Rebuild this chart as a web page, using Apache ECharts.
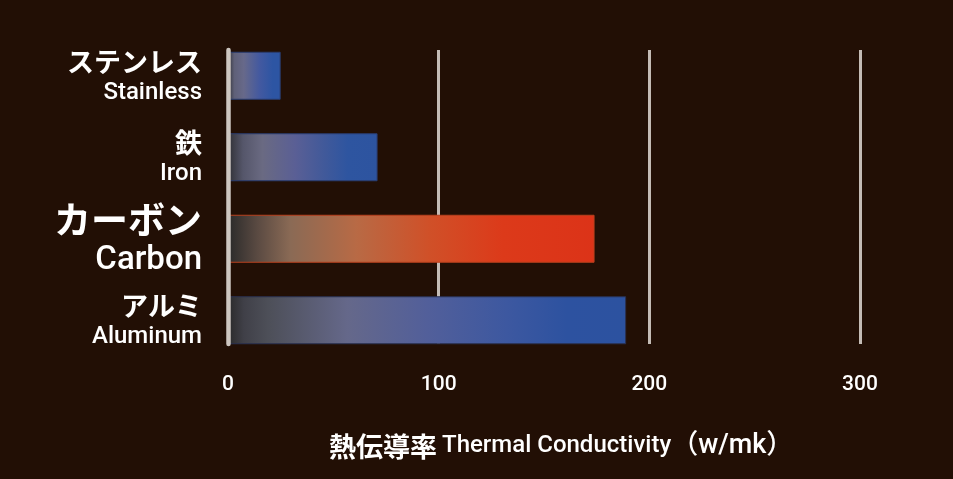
<!DOCTYPE html>
<html>
<head>
<meta charset="utf-8">
<script src="https://cdn.jsdelivr.net/npm/echarts@6/dist/echarts.min.js"></script>
<style>
  html, body { margin: 0; padding: 0; background: #220f05; }
  #chart { width: 953px; height: 479px; }
</style>
</head>
<body>
<div id="chart"></div>
<script>
const categoriesJa = ['ステンレス', '鉄', 'カーボン', 'アルミ'];
const categoriesEn = ['Stainless', 'Iron', 'Carbon', 'Aluminum'];
const values = [25, 71, 174, 189];
const tickValues = [0, 100, 200, 300];
const axisTitleJa = '熱伝導率';
const axisTitleEn = 'Thermal Conductivity';
const axisTitleUnit = '（w/mk）';

const gradients = [
  [[0, '#333338'], [0.12, '#5f6078'], [0.3, '#67698a'], [0.6, '#4359a0'], [0.85, '#2d55a3'], [1, '#2d55a3']],
  [[0, '#303034'], [0.1, '#55566a'], [0.23, '#6a6a82'], [0.45, '#5a5f95'], [0.65, '#40599a'], [0.8, '#2e55a0'], [1, '#2d54a0']],
  [[0, '#2a2a2a'], [0.08, '#5a4a42'], [0.17, '#8a6a55'], [0.35, '#b86a45'], [0.55, '#d05028'], [0.75, '#dc3a1a'], [1, '#dc3318']],
  [[0, '#2a2a2a'], [0.04, '#404048'], [0.1, '#4d4f58'], [0.3, '#65688a'], [0.5, '#525f9a'], [0.7, '#3d58a0'], [0.85, '#2d52a0'], [1, '#2c52a0']]
];
const borders = ['#2a3d70', '#2a3d70', '#b8401e', '#2a3050'];

function grad(stops) {
  return new echarts.graphic.LinearGradient(0, 0, 1, 0,
    stops.map(s => ({ offset: s[0], color: s[1] })));
}

const chart = echarts.init(document.getElementById('chart'));
chart.setOption({
  backgroundColor: '#220f05',
  animation: false,
  title: {
    left: 324,
    top: 428,
    text: '{ja|' + axisTitleJa + '} {en|' + axisTitleEn + '}{un|' + axisTitleUnit + '}',
    textStyle: {
      rich: {
        ja: { fontFamily: 'Noto Sans CJK JP', fontWeight: 'bold', fontSize: 27, color: '#ffffff' },
        en: { fontFamily: 'Roboto', fontWeight: 500, fontSize: 24, color: '#ffffff' },
        un: { fontFamily: 'Roboto, Noto Sans CJK JP', fontWeight: 500, fontSize: 27, color: '#ffffff' }
      }
    }
  },
  grid: [
    { left: 228, right: 93, top: 35, bottom: 118 },
    { left: 228, right: 93, top: 50, bottom: 135 }
  ],
  xAxis: [
    {
      gridIndex: 0, type: 'value', min: 0, max: 300, interval: 100,
      axisLine: { show: false }, axisTick: { show: false },
      axisLabel: { show: false }, splitLine: { show: false }
    },
    {
      gridIndex: 1, type: 'value', min: 0, max: 300, interval: 100,
      axisLine: { show: false }, axisTick: { show: false },
      axisLabel: {
        show: true, margin: 30, color: '#ffffff',
        fontFamily: 'Roboto', fontWeight: 500, fontSize: 21,
        formatter: v => tickValues.includes(v) ? String(v) : ''
      },
      splitLine: { show: true, lineStyle: { color: '#c4bcb6', width: 3 } }
    }
  ],
  yAxis: [
    {
      gridIndex: 0, type: 'category', inverse: true, data: categoriesJa,
      axisLine: { show: false }, axisTick: { show: false },
      axisLabel: {
        margin: 26, align: 'right',
        formatter: (v, i) => {
          const big = categoriesEn[i] === 'Carbon';
          return big ? '{jaL|' + v + '}\n{enL|' + categoriesEn[i] + '}'
                     : '{ja|' + v + '}\n{en|' + categoriesEn[i] + '}';
        },
        rich: {
          ja: { fontFamily: 'Noto Sans CJK JP', fontWeight: 'bold', fontSize: 27, color: '#ffffff', lineHeight: 29, align: 'right' },
          en: { fontFamily: 'Roboto', fontWeight: 500, fontSize: 24, color: '#ffffff', lineHeight: 29, align: 'right', padding: [5, 0, 0, 0] },
          jaL: { fontFamily: 'Noto Sans CJK JP', fontWeight: 'bold', fontSize: 37, color: '#ffffff', lineHeight: 38, align: 'right' },
          enL: { fontFamily: 'Roboto', fontWeight: 500, fontSize: 33, color: '#ffffff', lineHeight: 38, align: 'right', padding: [5, 0, 0, 0] }
        }
      }
    },
    {
      gridIndex: 1, type: 'category', data: [''], z: 5,
      axisLine: { show: true, lineStyle: { color: '#cdc6c0', width: 4.5 } },
      axisTick: { show: false }, axisLabel: { show: false },
      splitLine: { show: false }
    }
  ],
  series: [{
    type: 'bar',
    xAxisIndex: 0, yAxisIndex: 0,
    barWidth: 48,
    data: values.map((v, i) => ({
      value: v,
      itemStyle: { color: grad(gradients[i]), borderColor: borders[i], borderWidth: 1 }
    }))
  }]
});
</script>
</body>
</html>
